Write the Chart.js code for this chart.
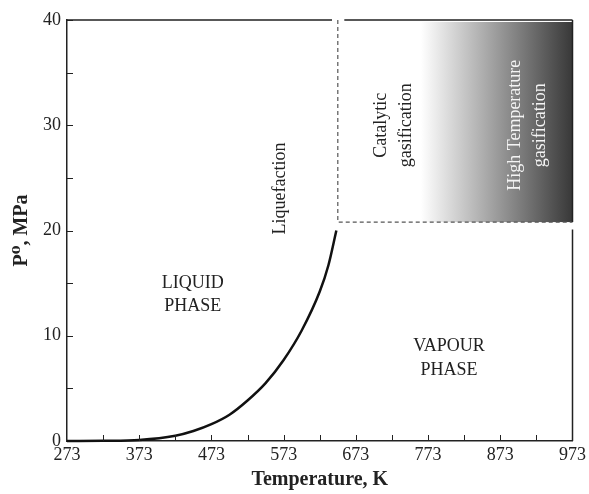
<!DOCTYPE html>
<html>
<head>
<meta charset="utf-8">
<script src="https://cdn.jsdelivr.net/npm/chart.js@4.4.1/dist/chart.umd.min.js"></script>
<style>
    html, body { margin: 0; padding: 0; background: #fff; }
    #chart { display: block; }
</style>
</head>
<body>
<canvas id="chart" width="589" height="494"></canvas>
<script>
// saturation curve
const tempK = [273, 323, 373, 423, 448, 473, 498, 523, 548, 573, 598, 623, 635, 646];
const pressureMPa = [0, 0.02, 0.1, 0.5, 0.95, 1.6, 2.5, 3.85, 5.5, 7.7, 10.5, 14.2, 16.7, 20];

const xTicks = [273, 323, 373, 423, 473, 523, 573, 623, 673, 723, 773, 823, 873, 923, 973];
const yTicks = [0, 5, 10, 15, 20, 25, 30, 35, 40];

// supercritical gasification zone (dashed box)
const zoneT = [648, 973];
const zoneP = [20.8, 40];
const gradientT = [763, 973];

const serif = '"Liberation Serif", "DejaVu Serif", serif';
const ink = '#222';

// Draw inward tick marks, top/right frame, dashed box and texts
const phasePlugin = {
    id: 'phasePlugin',
    beforeDatasetsDraw(chart)
    {
        const { ctx, scales: { x, y } } = chart;
        const x0 = x.getPixelForValue(zoneT[0]);
        const x1 = x.getPixelForValue(zoneT[1]);
        const y0 = y.getPixelForValue(zoneP[1]);
        const y1 = y.getPixelForValue(zoneP[0]);

        ctx.save();
        const g = ctx.createLinearGradient(x.getPixelForValue(gradientT[0]), 0, x.getPixelForValue(gradientT[1]), 0);
        g.addColorStop(0, '#ffffff');
        g.addColorStop(1, '#383838');
        ctx.fillStyle = g;
        ctx.fillRect(x0, y0 + 2, x1 - x0, y1 - y0 - 2);

        ctx.strokeStyle = '#555';
        ctx.lineWidth = 1.2;
        ctx.setLineDash([4, 3]);
        ctx.beginPath();
        ctx.moveTo(x0, y0);
        ctx.lineTo(x0, y1);
        ctx.lineTo(x1, y1);
        ctx.stroke();
        ctx.restore();
    },
    afterDraw(chart)
    {
        const { ctx, chartArea: { top, bottom, left, right }, scales: { x, y } } = chart;

        ctx.save();
        ctx.strokeStyle = ink;
        ctx.lineWidth = 1.5;

        // frame top and right, with the small gaps of the original
        ctx.beginPath();
        ctx.moveTo(left, top);
        ctx.lineTo(x.getPixelForValue(640), top);
        ctx.moveTo(x.getPixelForValue(657), top);
        ctx.lineTo(right, top);
        ctx.moveTo(right, top);
        ctx.lineTo(right, y.getPixelForValue(zoneP[0]));
        ctx.moveTo(right, y.getPixelForValue(20.1));
        ctx.lineTo(right, bottom);
        ctx.stroke();

        // inward ticks
        ctx.lineWidth = 1;
        ctx.beginPath();
        xTicks.slice(1, -1).forEach(v =>
        {
            const px = Math.round(x.getPixelForValue(v)) + 0.5;
            ctx.moveTo(px, bottom);
            ctx.lineTo(px, bottom - 6);
        });
        yTicks.slice(1).forEach(v =>
        {
            const py = Math.round(y.getPixelForValue(v)) + 0.5;
            ctx.moveTo(left, py);
            ctx.lineTo(left + 6, py);
        });
        ctx.stroke();

        // region labels
        ctx.font = '18px ' + serif;
        ctx.textAlign = 'center';
        ctx.textBaseline = 'middle';
        ctx.fillStyle = ink;

        const flat = (lines, t, p, gap) =>
        {
            lines.forEach((s, i) => ctx.fillText(s, x.getPixelForValue(t), y.getPixelForValue(p) + i * gap));
        };
        flat(['LIQUID', 'PHASE'], 447, 15.0, 23);
        flat(['VAPOUR', 'PHASE'], 802, 9.0, 24);

        const upright = (lines, t, p, gap, color) =>
        {
            ctx.save();
            ctx.translate(x.getPixelForValue(t), y.getPixelForValue(p));
            ctx.rotate(-Math.PI / 2);
            ctx.fillStyle = color;
            lines.forEach((s, i) => ctx.fillText(s, 0, i * gap));
            ctx.restore();
        };
        upright(['Liquefaction'], 569, 24, 0, ink);
        upright(['Catalytic', 'gasification'], 708, 30, 25, ink);
        upright(['High Temperature', 'gasification'], 894, 30, 25, '#f4f4f4');

        ctx.restore();
    }
};

new Chart(document.getElementById('chart').getContext('2d'), {
    type: 'line',
    data: {
        datasets: [{
            data: tempK.map((t, i) => ({ x: t, y: pressureMPa[i] })),
            borderColor: '#111',
            borderWidth: 2.5,
            pointRadius: 0,
            fill: false,
            cubicInterpolationMode: 'monotone',
            clip: false
        }]
    },
    options: {
        responsive: false,
        animation: false,
        layout: { padding: { top: 20, right: 14, left: 0, bottom: 0 } },
        plugins: {
            legend: { display: false },
            tooltip: { enabled: false }
        },
        scales: {
            x: {
                type: 'linear',
                min: 273,
                max: 973,
                afterBuildTicks: scale => { scale.ticks = xTicks.map(v => ({ value: v })); },
                afterFit: scale => { scale.height = 53; },
                grid: { display: false, drawTicks: false },
                border: { display: true, color: ink, width: 1.5 },
                ticks: {
                    autoSkip: false,
                    maxRotation: 0,
                    padding: 3,
                    color: ink,
                    font: { family: serif, size: 18 },
                    callback: v => ((v - 273) % 100 === 0 ? String(v) : '')
                },
                title: {
                    display: true,
                    text: 'Temperature, K',
                    color: ink,
                    font: { family: serif, size: 20, weight: 'bold' },
                    padding: { top: 0, bottom: 2 }
                }
            },
            y: {
                min: 0,
                max: 40,
                afterBuildTicks: scale => { scale.ticks = yTicks.map(v => ({ value: v })); },
                afterFit: scale => { scale.width = 67; },
                grid: { display: false, drawTicks: false },
                border: { display: true, color: ink, width: 1.5 },
                ticks: {
                    padding: 6,
                    color: ink,
                    font: { family: serif, size: 18 },
                    callback: v => (v % 10 === 0 ? String(v) : '')
                },
                title: {
                    display: true,
                    text: 'P\u2070, MPa',
                    color: ink,
                    font: { family: serif, size: 20, weight: 'bold' },
                    padding: { top: 10, bottom: 0 }
                }
            }
        }
    },
    plugins: [phasePlugin]
});
</script>
</body>
</html>
